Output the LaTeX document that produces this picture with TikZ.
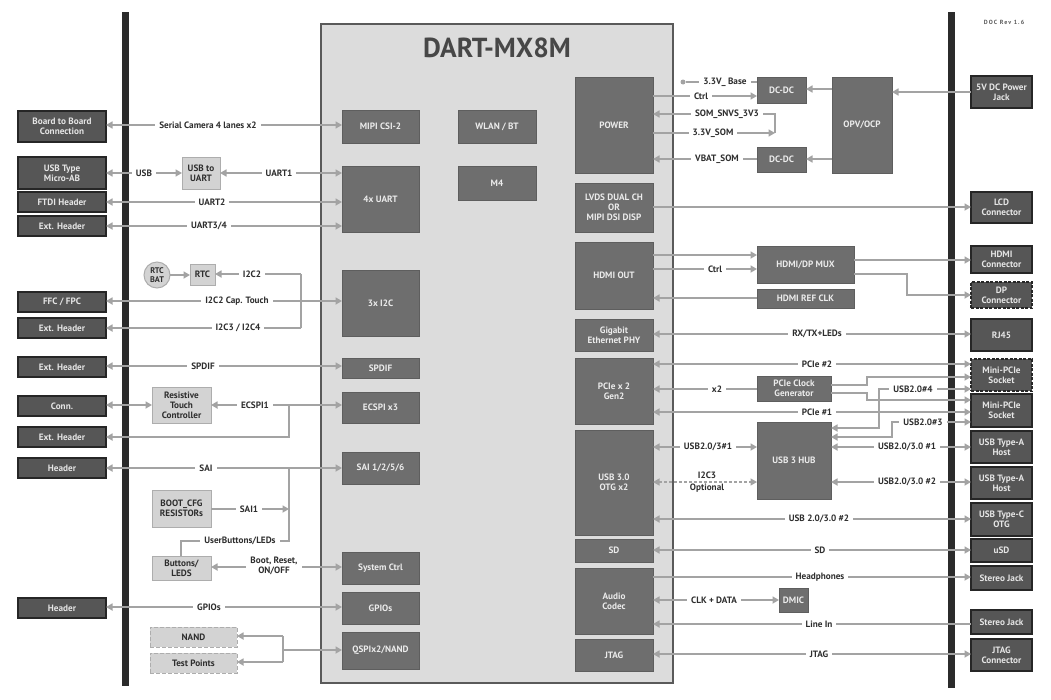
\documentclass[tikz,border=0pt]{standalone}
\usepackage{fontspec}
\setmainfont{PT Sans}
\usetikzlibrary{arrows.meta}
\definecolor{lc}{HTML}{A3A3A3}
\definecolor{ibf}{HTML}{6E6E6E}
\definecolor{ibd}{HTML}{5E5E5E}
\definecolor{extf}{HTML}{565656}
\definecolor{extd}{HTML}{262626}
\definecolor{lbf}{HTML}{D3D3D3}
\definecolor{lbd}{HTML}{ADADAD}
\definecolor{chipf}{HTML}{DCDCDC}
\definecolor{chipd}{HTML}{5A5A5A}
\definecolor{txt}{HTML}{2E2E2E}
\definecolor{barc}{HTML}{2B2B2B}
\definecolor{titlec}{HTML}{474747}
\newcommand\bx[7]{\node[#1,minimum width={(#5)-(#3)},minimum height={(#6)-(#4)}] (#2) at ({((#3)+(#5))/2},{((#4)+(#6))/2}) {#7};}
\tikzset{
 base/.style={inner sep=0pt, outer sep=0pt, align=center, font=\bfseries\fontsize{9.2}{10.2}\selectfont},
 ib/.style={base, fill=ibf, draw=ibd, line width=0.8pt, text=white!92!black},
 ext/.style={base, fill=extf, draw=extd, line width=1.2pt, text=white!90!black},
 extdash/.style={ext, dash pattern=on 3pt off 1.5pt, line width=1.6pt},
 lb/.style={base, fill=lbf, draw=lbd, line width=1pt, text=txt},
 lbdash/.style={lb, dash pattern=on 4pt off 2pt},
 chipst/.style={base, fill=chipf, draw=chipd, line width=2pt},
 barst/.style={base, fill=barc, draw=none},
 lbl/.style={base, fill=white, inner xsep=4pt, inner ysep=1pt, text=txt},
 lblnf/.style={base, text=txt},
 cn/.style={draw=lc, line width=1.6pt},
 ar/.style={cn, -{Triangle[length=6.5pt,width=7pt]}},
 ar2/.style={cn, {Triangle[length=6.5pt,width=7pt]}-{Triangle[length=6.5pt,width=7pt]}},
}
\begin{document}
\begin{tikzpicture}[x=1pt,y=-1pt]
\useasboundingbox[fill=white] (0,0) rectangle (1051,699);
% bars
\bx{barst}{lbar}{122}{12}{129}{686}{}
\bx{barst}{rbar}{948}{12}{955}{688}{}
% chip
\bx{chipst}{chip}{321}{24}{673}{683}{}
\node[font=\bfseries\fontsize{27.5}{30}\selectfont, text=titlec] (title) at (497,48) {DART-MX8M};
% inner left
\bx{ib}{mipi}{342}{110}{419}{143}{MIPI CSI-2}
\bx{ib}{uart}{342}{166}{419}{232}{4x UART}
\bx{ib}{i2c}{342}{270}{419}{336}{3x I2C}
\bx{ib}{spdif}{342}{358}{419}{378}{SPDIF}
\bx{ib}{ecspi}{342}{392}{419}{423}{ECSPI x3}
\bx{ib}{sai}{342}{452}{419}{484}{SAI 1/2/5/6}
\bx{ib}{sysctrl}{342}{552}{419}{584}{System Ctrl}
\bx{ib}{gpio}{342}{592}{419}{624}{GPIOs}
\bx{ib}{qspi}{342}{632}{419}{669}{QSPIx2/NAND}
\bx{ib}{wlan}{458}{110}{536}{143}{WLAN / BT}
\bx{ib}{m4}{458}{166}{536}{200}{M4}
% inner right
\bx{ib}{power}{575}{77}{653}{173}{POWER}
\bx{ib}{lvds}{575}{183}{653}{232}{LVDS DUAL CH\\OR\\MIPI DSI DISP}
\bx{ib}{hdmiout}{575}{242}{653}{309}{HDMI OUT}
\bx{ib}{gbe}{575}{319}{653}{351}{Gigabit\\Ethernet PHY}
\bx{ib}{pcie}{575}{358}{653}{424}{PCIe x 2\\Gen2}
\bx{ib}{usb3}{575}{430}{653}{535}{USB 3.0\\OTG x2}
\bx{ib}{sd}{575}{539}{653}{562}{SD}
\bx{ib}{audio}{575}{568}{653}{634}{Audio\\Codec}
\bx{ib}{jtag}{575}{639}{653}{671}{JTAG}
% middle right
\bx{ib}{dcdc1}{757}{77}{806}{103}{DC-DC}
\bx{ib}{opv}{832}{77}{892}{173}{OPV/OCP}
\bx{ib}{dcdc2}{757}{147}{806}{172}{DC-DC}
\bx{ib}{mux}{757}{246}{854}{283}{HDMI/DP MUX}
\bx{ib}{refclk}{757}{289}{854}{308}{HDMI REF CLK}
\bx{ib}{pclk}{757}{376}{831}{401}{PCIe Clock\\Generator}
\bx{ib}{hub}{757}{422}{831}{499}{USB 3 HUB}
\bx{ib}{dmic}{779}{588}{808}{612}{DMIC}
% left external
\bx{ext}{b2b}{18}{111}{106}{142}{Board to Board\\Connection}
\bx{ext}{usbab}{18}{157}{106}{189}{USB Type\\Micro-AB}
\bx{ext}{ftdi}{18}{192}{106}{212}{FTDI Header}
\bx{ext}{exth1}{18}{216}{106}{236}{Ext. Header}
\bx{ext}{ffc}{18}{292}{106}{312}{FFC / FPC}
\bx{ext}{exth2}{18}{318}{106}{338}{Ext. Header}
\bx{ext}{exth3}{18}{357}{106}{377}{Ext. Header}
\bx{ext}{conn}{18}{396}{106}{416}{Conn.}
\bx{ext}{exth4}{18}{427}{106}{447}{Ext. Header}
\bx{ext}{hdr1}{18}{458}{106}{478}{Header}
\bx{ext}{hdr2}{18}{598}{106}{618}{Header}
% left light boxes
\bx{lb}{usbuart}{182}{157}{220}{189}{USB to\\UART}
\bx{lb}{rtc}{190}{264}{215}{285}{RTC}
\node[lb, circle, minimum size=26pt, font=\bfseries\fontsize{8.2}{9}\selectfont] (rtcbat) at (157,275) {RTC\\BAT};
\bx{lb}{rtouch}{152}{387}{211}{423}{Resistive\\Touch\\Controller}
\bx{lb}{bootcfg}{152}{490}{211}{527}{BOOT\_CFG\\RESISTORs}
\bx{lb}{btn}{152}{556}{211}{580}{Buttons/\\LEDS}
\bx{lbdash}{nand}{150}{627}{237}{647}{NAND}
\bx{lbdash}{tp}{150}{653}{237}{673}{Test Points}
% right external
\bx{ext}{pwrjack}{971}{76}{1032}{108}{5V DC Power\\Jack}
\bx{ext}{lcd}{971}{192}{1032}{223}{LCD\\Connector}
\bx{ext}{hdmic}{971}{246}{1032}{273}{HDMI\\Connector}
\bx{extdash}{dp}{971}{282}{1032}{308}{DP\\Connector}
\bx{ext}{rj45}{971}{319}{1032}{351}{RJ45}
\bx{extdash}{mpcie1}{971}{359}{1032}{391}{Mini-PCIe\\Socket}
\bx{ext}{mpcie2}{971}{394}{1032}{427}{Mini-PCIe\\Socket}
\bx{ext}{usba1}{971}{431}{1032}{463}{USB Type-A\\Host}
\bx{ext}{usba2}{971}{467}{1032}{499}{USB Type-A\\Host}
\bx{ext}{usbc}{971}{503}{1032}{536}{USB Type-C\\OTG}
\bx{ext}{usd}{971}{539}{1032}{562}{uSD}
\bx{ext}{sj1}{971}{566}{1032}{590}{Stereo Jack}
\bx{ext}{sj2}{971}{610}{1032}{634}{Stereo Jack}
\bx{ext}{jtagc}{971}{639}{1032}{671}{JTAG\\Connector}
\node[font=\bfseries\fontsize{6}{7}\selectfont\addfontfeature{LetterSpace=18}, text=black!65] (doc) at (1004,22) {DOC Rev 1.6};
% ---------- left connectors
\draw[ar2] (b2b.east |- 0,125) -- (mipi.west |- 0,125);
\draw[ar2] (usbab.east |- 0,173) -- (usbuart.west |- 0,173);
\draw[ar2] (uart.west |- 0,173) -- (usbuart.east |- 0,173);
\draw[ar2] (uart.west |- 0,202) -- (ftdi.east |- 0,202);
\draw[ar2] (uart.west |- 0,226) -- (exth1.east |- 0,226);
\draw[ar] (rtcbat.east) -- (rtc.west |- rtcbat.east);
\coordinate (j1) at (301,274); \coordinate (j2) at (301,328);
\draw[ar] (j1) -- (rtc.east |- j1);
\draw[cn] (j1) -- (j2);
\draw[ar] (j2) -- (exth2.east |- j2);
\draw[ar2] (i2c.west |- 0,301) -- (ffc.east |- 0,301);
\draw[ar2] (spdif.west |- 0,366) -- (exth3.east |- 0,366);
\draw[ar2] (ecspi.west |- 0,405) -- (rtouch.east |- 0,405);
\coordinate (j3) at (289,405); \coordinate (j4) at (289,437);
\draw[ar] (j3) -- (j4) -- (exth4.east |- j4);
\draw[ar2] (conn.east |- 0,405) -- (rtouch.west |- 0,405);
\draw[ar2] (sai.west |- 0,468) -- (hdr1.east |- 0,468);
\coordinate (j5) at (289,468); \coordinate (j6) at (289,541); \coordinate (j7) at (181,541);
\draw[cn] (j5) -- (j6) -- (j7) -- (j7 |- btn.north);
\draw[ar] (bootcfg.east |- 0,509) -- (j5 |- 0,509);
\draw[ar2] (sysctrl.west |- 0,567) -- (btn.east |- 0,567);
\draw[ar2] (gpio.west |- 0,607) -- (hdr2.east |- 0,607);
\coordinate (j8) at (283,650); \coordinate (j9) at (283,636); \coordinate (j10) at (283,662);
\draw[ar] (j8) -- (qspi.west |- j8);
\draw[cn] (j9) -- (j10);
\draw[ar] (j9) -- (nand.east |- j9);
\draw[ar] (j10) -- (tp.east |- j10);
% ---------- right connectors
\node[circle, fill=lc, minimum size=5pt, inner sep=0pt] (dot) at (683,82) {};
\draw[cn] (dot) -- (dcdc1.west |- dot);
\draw[ar] (power.east |- 0,96) -- (dcdc1.west |- 0,96);
\coordinate (j11) at (775,114); \coordinate (j12) at (775,133);
\draw[ar] (power.east |- j12) -- (j12);
\draw[ar] (j12) -- (j11) -- (power.east |- j11);
\draw[ar] (dcdc2.west |- 0,159) -- (power.east |- 0,159);
\draw[ar] (opv.west |- 0,89) -- (dcdc1.east |- 0,89);
\draw[ar] (opv.west |- 0,159) -- (dcdc2.east |- 0,159);
\draw[ar] (pwrjack.west |- 0,92) -- (opv.east |- 0,92);
\draw[ar] (lvds.east |- 0,207) -- (lcd.west |- 0,207);
\draw[ar] (hdmiout.east |- 0,255) -- (mux.west |- 0,255);
\draw[ar] (hdmiout.east |- 0,269) -- (mux.west |- 0,269);
\draw[ar] (refclk.west |- 0,298) -- (hdmiout.east |- 0,298);
\draw[ar] (mux.east |- 0,260) -- (hdmic.west |- 0,260);
\coordinate (j13) at (907,274); \coordinate (j14) at (907,295);
\draw[ar] (mux.east |- j13) -- (j13) -- (j14) -- (dp.west |- j14);
\draw[ar2] (gbe.east |- 0,334) -- (rj45.west |- 0,334);
\draw[ar2] (pcie.east |- 0,364) -- (mpcie1.west |- 0,364);
\draw[ar] (pclk.west |- 0,389) -- (pcie.east |- 0,389);
\coordinate (j15) at (867,385); \coordinate (j16) at (867,377);
\coordinate (j17) at (867,393); \coordinate (j18) at (867,400);
\draw[ar] (pclk.east |- j15) -- (j15) -- (j16) -- (mpcie1.west |- j16);
\draw[ar] (pclk.east |- j17) -- (j17) -- (j18) -- (mpcie2.west |- j18);
\draw[ar2] (pcie.east |- 0,412) -- (mpcie2.west |- 0,412);
\coordinate (j19) at (879,389); \coordinate (j20) at (879,428);
\draw[ar2] (mpcie1.west |- j19) -- (j19) -- (j20) -- (hub.east |- j20);
\coordinate (j21) at (892,422); \coordinate (j22) at (892,437);
\draw[ar2] (mpcie2.west |- j21) -- (j21) -- (j22) -- (hub.east |- j22);
\draw[ar2] (usb3.east |- 0,447) -- (hub.west |- 0,447);
\draw[ar2, line width=1.3pt, dash pattern=on 3pt off 2pt] (usb3.east |- 0,482) -- (hub.west |- 0,482);
\draw[ar2] (hub.east |- 0,447) -- (usba1.west |- 0,447);
\draw[ar2] (hub.east |- 0,482) -- (usba2.west |- 0,482);
\draw[ar2] (usb3.east |- 0,519) -- (usbc.west |- 0,519);
\draw[ar2] (sd.east |- 0,550) -- (usd.west |- 0,550);
\draw[ar] (audio.east |- 0,577) -- (sj1.west |- 0,577);
\draw[ar2] (audio.east |- 0,600) -- (dmic.west |- 0,600);
\draw[ar] (sj2.west |- 0,624) -- (audio.east |- 0,624);
\draw[ar2] (jtag.east |- 0,654) -- (jtagc.west |- 0,654);
% ---------- labels
\node[lbl] (t1) at (208,125) {Serial Camera 4 lanes x2};
\node[lbl] (t2) at (144,173) {USB};
\node[lbl] (t3) at (279,173) {UART1};
\node[lbl] (t4) at (212,202) {UART2};
\node[lbl] (t5) at (209,226) {UART3/4};
\node[lbl] (t6) at (252,274) {I2C2};
\node[lbl] (t8) at (237,301) {I2C2 Cap. Touch};
\node[lbl] (t7) at (238,328) {I2C3 / I2C4};
\node[lbl] (t9) at (203,366) {SPDIF};
\node[lbl] (t10) at (255,405) {ECSPI1};
\node[lbl] (t11) at (206,468) {SAI};
\node[lbl] (t13) at (249,509) {SAI1};
\node[lbl] (t12) at (240,541) {UserButtons/LEDs};
\node[lbl] (t14) at (274,566) {Boot, Reset,\\ON/OFF};
\node[lbl] (t15) at (209,607) {GPIOs};
\node[lbl] (t16) at (725,82) {3.3V\_ Base};
\node[lbl] (t17) at (701,96) {Ctrl};
\node[lbl] (t18) at (727,114) {SOM\_SNVS\_3V3};
\node[lbl] (t19) at (713,133) {3.3V\_SOM};
\node[lbl] (t20) at (717,159) {VBAT\_SOM};
\node[lbl] (t21) at (715,269) {Ctrl};
\node[lbl] (t22) at (817,334) {RX/TX+LEDs};
\node[lbl] (t23) at (817,364) {PCIe \#2};
\node[lbl] (t24) at (717,389) {x2};
\node[lbl] (t25) at (817,412) {PCIe \#1};
\node[lbl] (t26) at (913,389) {USB2.0\#4};
\node[lbl] (t27) at (923,422) {USB2.0\#3};
\node[lbl] (t28) at (708,447) {USB2.0/3\#1};
\node[lblnf, font=\bfseries\fontsize{9.2}{11.5}\selectfont] (t29) at (707,482) {I2C3\\Optional};
\node[lbl] (t30) at (907,447) {USB2.0/3.0 \#1};
\node[lbl] (t31) at (907,482) {USB2.0/3.0 \#2};
\node[lbl] (t32) at (819,519) {USB 2.0/3.0 \#2};
\node[lbl] (t33) at (820,550) {SD};
\node[lbl] (t34) at (820,577) {Headphones};
\node[lbl] (t35) at (714,600) {CLK + DATA};
\node[lbl] (t36) at (819,624) {Line In};
\node[lbl] (t37) at (819,654) {JTAG};
\end{tikzpicture}
\end{document}
